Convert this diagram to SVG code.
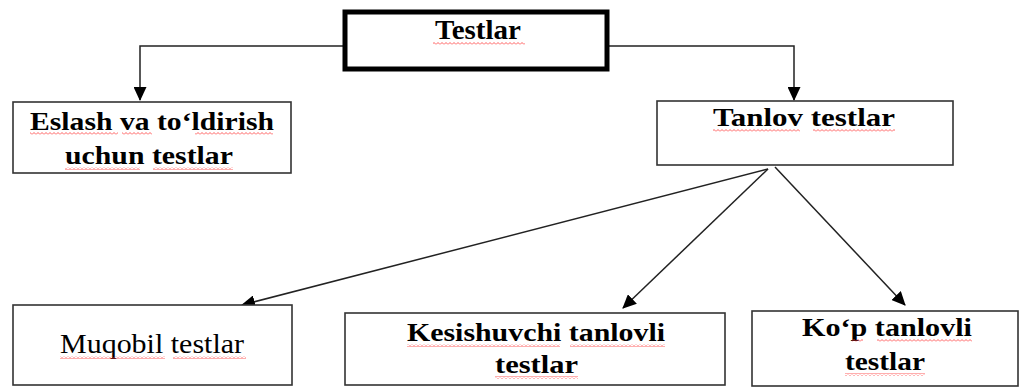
<svg xmlns="http://www.w3.org/2000/svg" width="1021" height="387" viewBox="0 0 1021 387">
<style>
.box{fill:#fff;stroke:#333;stroke-width:1.6}
.main{fill:#fff;stroke:#000;stroke-width:5}
.b{font-family:"Liberation Serif","Times New Roman",serif;font-weight:bold;font-size:26px;fill:#000}
.r{font-family:"Liberation Serif","Times New Roman",serif;font-size:28px;fill:#000}
.c{fill:none;stroke:#222;stroke-width:1.5}
.w{fill:url(#wavy)}
</style>
<defs>
<marker id="ah" markerWidth="14" markerHeight="13" refX="13" refY="6.5" orient="auto" markerUnits="userSpaceOnUse">
<path d="M0,0 L14,6.5 L0,13 Z" fill="#000"/>
</marker>
<pattern id="wavy" width="4" height="3" patternUnits="userSpaceOnUse">
<path d="M0,2.5 L2,0.5 L4,2.5" fill="none" stroke="#f33" stroke-width="0.8"/>
</pattern>
</defs>
<g id="connectors">
<path class="c" d="M343,46 H140 V100" marker-end="url(#ah)"/>
<path class="c" d="M609,46 H794 V100" marker-end="url(#ah)"/>
<path class="c" d="M768,169 L242,305" marker-end="url(#ah)"/>
<path class="c" d="M768,169 L623,308" marker-end="url(#ah)"/>
<path class="c" d="M775,167 L905,305" marker-end="url(#ah)"/>
</g>
<g id="node-testlar">
<rect class="main" x="345" y="12" width="262" height="57"/>
<text class="b" x="435" y="39" textLength="86" lengthAdjust="spacingAndGlyphs" style="font-size:27px">Testlar</text>
<rect class="w" x="433" y="42" width="92" height="3"/>
</g>
<g id="node-eslash">
<rect class="box" x="13" y="102" width="278" height="71"/>
<text class="b" x="30" y="130" textLength="244" lengthAdjust="spacingAndGlyphs">Eslash va to‘ldirish</text>
<text class="b" x="65" y="164" textLength="168" lengthAdjust="spacingAndGlyphs">uchun testlar</text>
<rect class="w" x="30" y="132" width="88" height="3"/>
<rect class="w" x="122" y="132" width="30" height="3"/>
<rect class="w" x="195" y="132" width="78" height="3"/>
<rect class="w" x="65" y="167" width="75" height="3"/>
<rect class="w" x="153" y="167" width="80" height="3"/>
</g>
<g id="node-tanlov">
<rect class="box" x="657" y="101" width="296" height="64"/>
<text class="b" x="713" y="126" textLength="182" lengthAdjust="spacingAndGlyphs">Tanlov testlar</text>
<rect class="w" x="713" y="129" width="87" height="3"/>
<rect class="w" x="813" y="129" width="82" height="3"/>
</g>
<g id="node-muqobil">
<rect class="box" x="13" y="305" width="279" height="80"/>
<text class="r" x="60" y="353" textLength="184" lengthAdjust="spacingAndGlyphs">Muqobil testlar</text>
<rect class="w" x="60" y="356" width="105" height="3"/>
<rect class="w" x="173" y="356" width="73" height="3"/>
</g>
<g id="node-kesishuvchi">
<rect class="box" x="345" y="313" width="380" height="72"/>
<text class="b" x="407" y="341" textLength="258" lengthAdjust="spacingAndGlyphs">Kesishuvchi tanlovli</text>
<text class="b" x="495" y="373" textLength="83" lengthAdjust="spacingAndGlyphs">testlar</text>
<rect class="w" x="407" y="344" width="153" height="3"/>
<rect class="w" x="570" y="344" width="95" height="3"/>
<rect class="w" x="495" y="376" width="83" height="3"/>
</g>
<g id="node-kop">
<rect class="box" x="752" y="311" width="266" height="75"/>
<text class="b" x="802" y="336" textLength="170" lengthAdjust="spacingAndGlyphs">Ko‘p tanlovli</text>
<text class="b" x="845" y="370" textLength="80" lengthAdjust="spacingAndGlyphs">testlar</text>
<rect class="w" x="852" y="339" width="11" height="3"/>
<rect class="w" x="877" y="339" width="95" height="3"/>
<rect class="w" x="845" y="373" width="80" height="3"/>
</g>
</svg>
